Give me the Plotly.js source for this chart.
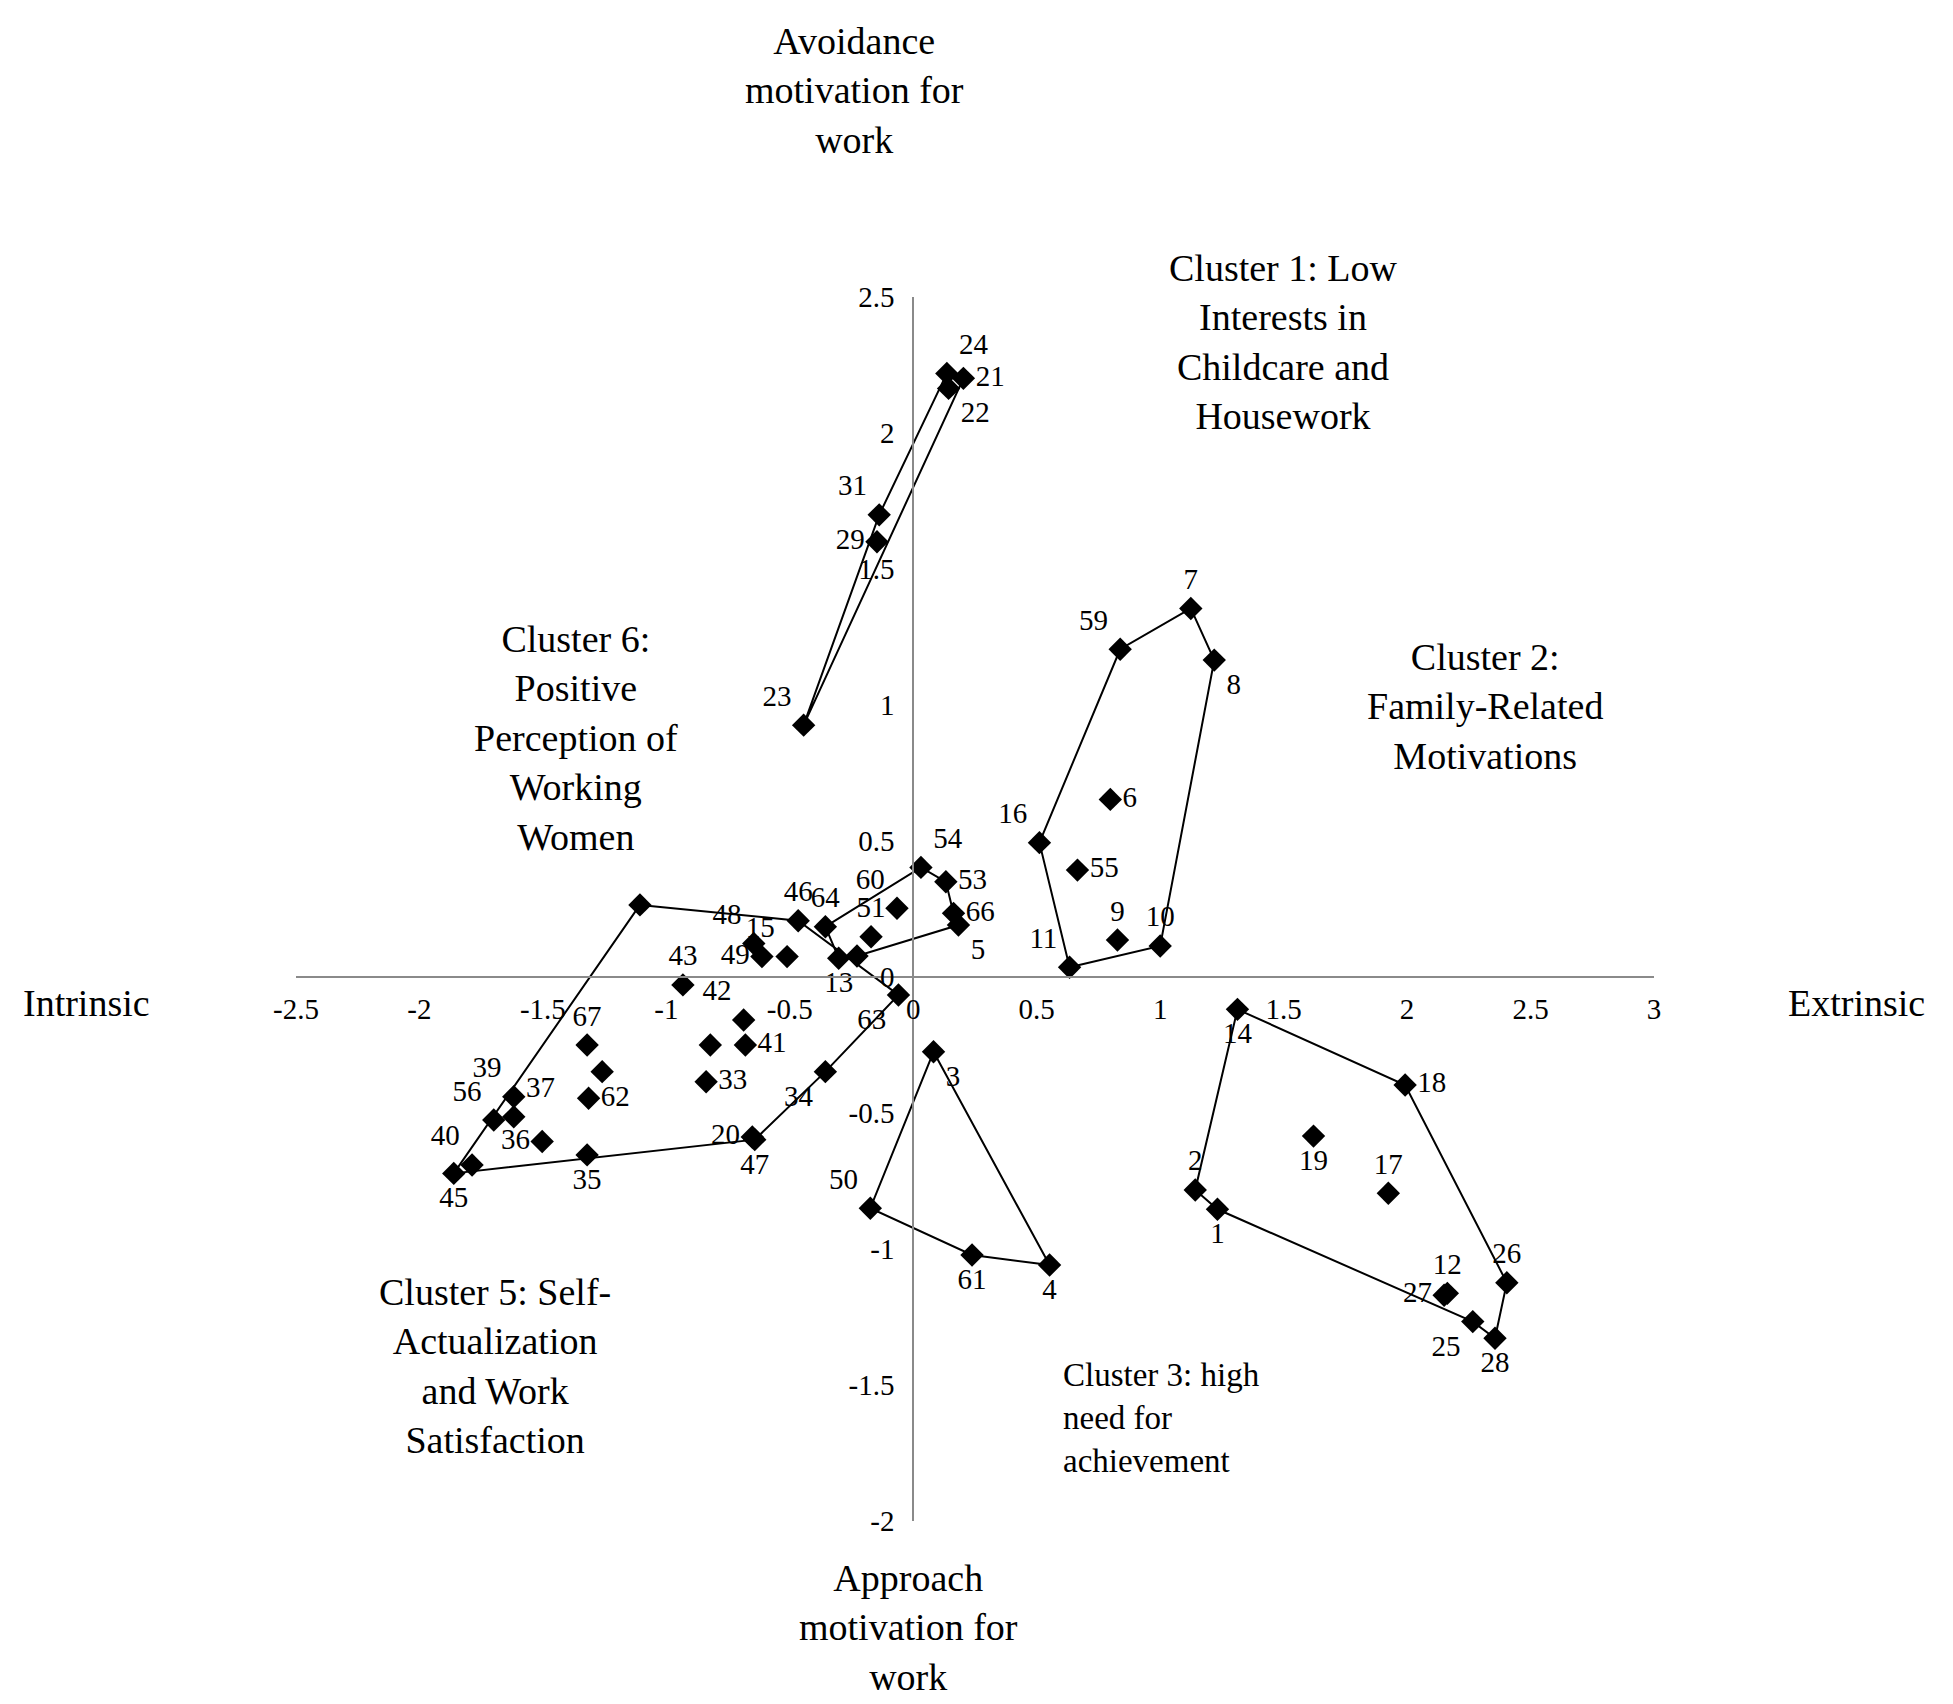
<!DOCTYPE html>
<html>
<head>
<meta charset="utf-8">
<script src="https://cdn.plot.ly/plotly-3.0.1.min.js"></script>
<style>
  body { margin: 0; background: #fff; }
  #chart { width: 1953px; height: 1704px; }
</style>
</head>
<body>
<div id="chart"></div>
<script>
// axis ticks
var xTickVals = [-2.5, -2, -1.5, -1, -0.5, 0, 0.5, 1, 1.5, 2, 2.5, 3];
var xTickText = ['-2.5', '-2', '-1.5', '-1', '-0.5', '0', '0.5', '1', '1.5', '2', '2.5', '3'];
var yTickVals = [-2, -1.5, -1, -0.5, 0, 0.5, 1, 1.5, 2, 2.5];
var yTickText = ['-2', '-1.5', '-1', '-0.5', '0', '0.5', '1', '1.5', '2', '2.5'];

// cluster 1
var c1Labels = ['24', '21', '22', '31', '29', '23'];
var c1X = [0.136, 0.203, 0.143, -0.138, -0.147, -0.444];
var c1Y = [2.219, 2.201, 2.164, 1.699, 1.600, 0.926];
var c1Hull = [5, 3, 0, 1, 5];

// cluster 2
var c2Labels = ['7', '59', '8', '6', '16', '55', '9', '10', '11'];
var c2X = [1.124, 0.838, 1.219, 0.798, 0.511, 0.665, 0.827, 1.000, 0.633];
var c2Y = [1.355, 1.205, 1.165, 0.653, 0.494, 0.393, 0.136, 0.114, 0.036];
var c2Hull = [8, 4, 1, 0, 2, 7, 8];

// cluster 3
var c3Labels = ['3', '50', '61', '4'];
var c3X = [0.082, -0.174, 0.238, 0.552];
var c3Y = [-0.275, -0.850, -1.022, -1.059];
var c3Hull = [0, 1, 2, 3, 0];

// cluster 4
var c4Labels = ['14', '18', '19', '17', '2', '1', '26', '12', '27', '25', '28'];
var c4X = [1.313, 1.992, 1.621, 1.924, 1.142, 1.232, 2.404, 2.163, 2.150, 2.266, 2.356];
var c4Y = [-0.119, -0.397, -0.585, -0.795, -0.783, -0.854, -1.124, -1.163, -1.170, -1.267, -1.328];
var c4Hull = [0, 1, 6, 10, 9, 5, 4, 0];

// clusters 5 and 6 (large polygon)
var c56Labels = ['', '46', '48', '49', '15', '43', '42', '41', '', '33', '63', '34',
                 '20', '47', '67', '', '62', '39', '37', '56', '36', '35', '40', '45'];
var c56X = [-1.107, -0.466, -0.646, -0.613, -0.511, -0.933, -0.687, -0.680, -0.822, -0.839, -0.060, -0.356,
            -0.652, -0.642, -1.321, -1.260, -1.315, -1.618, -1.618, -1.699, -1.503, -1.321, -1.787, -1.861];
var c56Y = [0.265, 0.207, 0.123, 0.075, 0.075, -0.029, -0.158, -0.250, -0.250, -0.385, -0.066, -0.348,
            -0.588, -0.598, -0.250, -0.348, -0.446, -0.440, -0.514, -0.526, -0.605, -0.654, -0.691, -0.722];
var c56Hull = [0, 1, 10, 11, 13, 23, 0];

// small group near the origin
var c0Labels = ['64', '60', '51', '54', '53', '66', '5', '13', ''];
var c0X = [-0.356, -0.066, -0.171, 0.031, 0.132, 0.163, 0.183, -0.302, -0.228];
var c0Y = [0.185, 0.253, 0.148, 0.403, 0.350, 0.234, 0.191, 0.069, 0.077];
var c0Hull = [0, 3, 4, 5, 6, 8, 7, 0];

// label placement (style only)
var c1Pos = ['top right', 'middle right', 'bottom right', 'top left', 'middle left', 'top left'];
var c2Pos = ['top center', 'top left', 'bottom right', 'middle right', 'top left', 'middle right',
             'top center', 'top center', 'top left'];
var c3Pos = ['bottom right', 'top left', 'bottom center', 'bottom center'];
var c4Pos = ['bottom center', 'middle right', 'bottom center', 'top center', 'top center', 'bottom center',
             'top center', 'top center', 'middle left', 'bottom left', 'bottom center'];
var c56Pos = ['top center', 'top center', 'top left', 'middle left', 'top left', 'top center', 'top left',
              'middle right', 'top center', 'middle right', 'bottom left', 'bottom left', 'middle left',
              'bottom center', 'top center', 'top center', 'middle right', 'top left', 'top right', 'top left',
              'middle left', 'bottom center', 'top left', 'bottom center'];
var c0Pos = ['top center', 'top left', 'top center', 'top right', 'middle right', 'middle right',
             'bottom right', 'bottom center', 'top center'];

var serif = 'Liberation Serif, Times New Roman, serif';
var data = [];

function addCluster(labels, xs, ys, hull, pos) {
    var hx = [];
    var hy = [];
    for (var k = 0; k < hull.length; k++) {
        hx.push(xs[hull[k]]);
        hy.push(ys[hull[k]]);
    }
    data.push({
        x: hx, y: hy,
        mode: 'lines',
        type: 'scatter',
        line: {color: '#000', width: 2},
        cliponaxis: false,
        hoverinfo: 'skip'
    });
    data.push({
        x: xs, y: ys,
        text: labels,
        mode: 'markers+text',
        type: 'scatter',
        textposition: pos,
        textfont: {family: serif, size: 29, color: '#000'},
        marker: {symbol: 'diamond', size: 18, color: '#000'},
        cliponaxis: false
    });
}

addCluster(c1Labels, c1X, c1Y, c1Hull, c1Pos);
addCluster(c2Labels, c2X, c2Y, c2Hull, c2Pos);
addCluster(c3Labels, c3X, c3Y, c3Hull, c3Pos);
addCluster(c4Labels, c4X, c4Y, c4Hull, c4Pos);
addCluster(c56Labels, c56X, c56Y, c56Hull, c56Pos);
addCluster(c0Labels, c0X, c0Y, c0Hull, c0Pos);

function note(text, x, y, size, align, xanchor) {
    return {
        text: text, x: x, y: y, xref: 'x', yref: 'y',
        showarrow: false, align: align || 'center',
        xanchor: xanchor || 'center', yanchor: 'middle',
        font: {family: serif, size: size, color: '#000'}
    };
}

// titles sitting outside the plotting area use paper coordinates
function outer(text, x, y) {
    return {
        text: text, x: x, y: y, xref: 'paper', yref: 'paper',
        showarrow: false, align: 'center',
        xanchor: 'center', yanchor: 'middle',
        font: {family: serif, size: 38, color: '#000'}
    };
}

var layout = {
    width: 1953,
    height: 1704,
    margin: {l: 296, r: 299, t: 297, b: 183},
    paper_bgcolor: '#fff',
    plot_bgcolor: '#fff',
    showlegend: false,
    hovermode: false,
    xaxis: {
        range: [-2.5, 3],
        anchor: 'free',
        position: 2 / 4.5,
        showgrid: false,
        zeroline: false,
        showline: true,
        linecolor: '#8a8a8a',
        linewidth: 2,
        ticks: '',
        tickvals: xTickVals,
        ticktext: xTickText,
        ticklabelstandoff: 6,
        tickfont: {family: serif, size: 29, color: '#000'}
    },
    yaxis: {
        range: [-2, 2.5],
        anchor: 'free',
        position: 2.5 / 5.5,
        showgrid: false,
        zeroline: false,
        showline: true,
        linecolor: '#8a8a8a',
        linewidth: 2,
        ticks: '',
        tickvals: yTickVals,
        ticktext: yTickText,
        ticklabelstandoff: 12,
        tickfont: {family: serif, size: 29, color: '#000'}
    },
    annotations: [
        outer('Avoidance<br>motivation for<br>work', 0.411, 1.169),
        outer('Approach<br>motivation for<br>work', 0.451, -0.087),
        outer('Intrinsic', -0.154, 0.423),
        outer('Extrinsic', 1.149, 0.423),
        note('Cluster 1: Low<br>Interests in<br>Childcare and<br>Housework', 1.498, 2.335, 38),
        note('Cluster 2:<br>Family-Related<br>Motivations', 2.316, 0.996, 38),
        note('Cluster 3: high<br>need for<br>achievement', 0.599, -1.621, 33, 'left', 'left'),
        note('Cluster 4:<br>Financial<br>Motivations', 3.413, -0.963, 38),
        note('Cluster 5: Self-<br>Actualization<br>and Work<br>Satisfaction', -1.696, -1.430, 38),
        note('Cluster 6:<br>Positive<br>Perception of<br>Working<br>Women', -1.368, 0.879, 38)
    ]
};

Plotly.newPlot('chart', data, layout, {displayModeBar: false, staticPlot: true});
</script>
</body>
</html>
